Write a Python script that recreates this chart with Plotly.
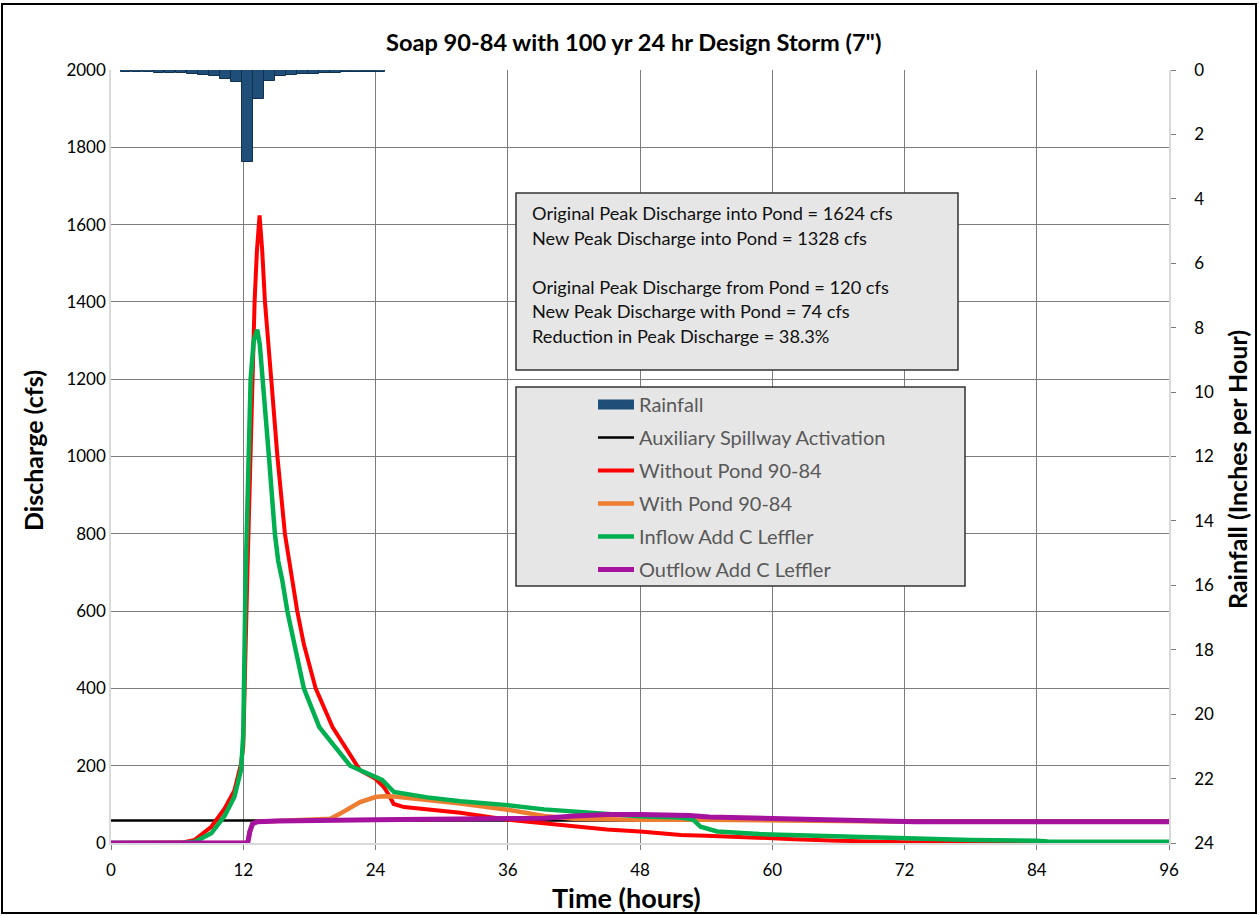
import plotly.graph_objects as go

# ---------------- data ----------------
rain_hour = list(range(1, 25))
rain_inph = [0.05, 0.05, 0.06, 0.08, 0.08, 0.09, 0.12, 0.15, 0.20, 0.27, 0.37, 2.86,
             0.89, 0.35, 0.20, 0.14, 0.13, 0.11, 0.10, 0.08, 0.06, 0.06, 0.06, 0.05]

spill_t = [0, 96]
spill_q = [58, 58]

nopond_t = [0, 5, 6.4, 7.6, 9.1, 10.3, 11.2, 11.8, 12.0, 12.36, 12.8, 13.03, 13.24, 13.48,
            13.72, 13.97, 14.54, 15.1, 15.78, 16.16, 16.5, 16.9, 17.5, 18.57, 20.1, 22.3,
            22.6, 24.0, 24.75, 25.2, 25.65, 26.6, 28.1, 28.7, 31.7, 36, 39.3, 42, 45, 48,
            51.7, 54, 60, 62, 66, 68, 72, 77, 80, 96]
nopond_q = [0, 0, 1, 8, 42, 89, 136, 205, 250, 680, 1200, 1400, 1533, 1624,
            1533, 1400, 1200, 1000, 800, 730, 680, 600, 514, 400, 300, 200,
            188, 166, 145, 125, 101, 93, 89, 87, 78, 60, 50, 43, 35, 30,
            21, 19, 14, 10, 6, 4, 2, 1, 0, 0]

pond_t = [0, 12.4, 12.6, 12.85, 13.3, 15, 17, 19.9, 20.8, 22.0, 22.6, 24.0, 24.75, 25.7,
          28.7, 31.7, 36, 38.1, 39.3, 42, 48, 54, 60, 66, 73, 96]
pond_q = [0, 0, 30, 50, 55, 57, 62, 63, 76, 98, 106, 119, 121, 120,
          111, 102, 86, 74, 70, 63, 60, 60, 59, 58, 55, 55]

inflow_t = [0, 6.4, 7.6, 9.1, 10.3, 11.2, 11.8, 12.0, 12.21, 12.67, 12.95, 13.27, 13.5,
            13.78, 14.33, 14.87, 15.17, 15.54, 16.0, 17.5, 18.9, 21.7, 22.6, 24.0, 24.6,
            25.67, 28.7, 31.7, 36, 39.3, 42, 45, 48, 51.7, 52.8, 53.5, 55, 58.8, 60, 66,
            72, 78, 84, 85, 96]
inflow_q = [0, 0, 3, 25, 70, 120, 190, 280, 680, 1200, 1300, 1328, 1290,
            1200, 1000, 800, 730, 680, 600, 400, 300, 200, 189, 171, 163,
            132, 118, 108, 98, 87, 81, 75, 69, 66, 61, 42, 30, 23, 22, 17,
            12, 8, 6, 4, 3]

outflow_t = [0, 12.4, 12.6, 12.85, 13.3, 15.1, 24, 28.7, 36, 39.3, 42, 45, 48, 51,
             52.5, 54.3, 60, 64.9, 73, 96]
outflow_q = [0, 0, 30, 50, 55, 57, 60, 61, 61, 64, 70, 74, 74, 73,
             71, 67, 62, 60, 55, 55]

x_ticks = list(range(0, 97, 12))
x_grid = list(range(12, 96, 12))
y_ticks = list(range(0, 2001, 200))
y_grid = list(range(200, 2001, 200))
y2_ticks = list(range(0, 25, 2))

info_lines = ["Original Peak Discharge into Pond = 1624 cfs",
              "New Peak Discharge into Pond = 1328 cfs",
              "",
              "Original Peak Discharge from Pond = 120 cfs",
              "New Peak Discharge with Pond = 74 cfs",
              "Reduction in Peak Discharge = 38.3%"]

FONT = "Lato"
W, H = 1259, 916
L, R, T, B = 111, 90, 70, 73
PW, PH = W - L - R, H - T - B
GRID = "#7c7c7c"


def px(xp):
    return (xp - L) / PW


def py(yp):
    return (H - B - yp) / PH


fig = go.Figure()

# rainfall bars (secondary, reversed axis)
fig.add_trace(go.Bar(x=rain_hour, y=rain_inph, yaxis="y2", offset=-0.13, width=0.98,
                     marker=dict(color="#1F4E79", line=dict(color="#12314f", width=1)),
                     showlegend=False, name="Rainfall"))
# legend proxy for rainfall
fig.add_trace(go.Scatter(x=[None], y=[None], mode="lines", name="Rainfall",
                         legendgroup="g1",
                         line=dict(color="#1F4E79", width=12)))

series = [
    ("Auxiliary Spillway Activation", spill_t, spill_q, "#000000", 2.5, "g2"),
    ("Without Pond 90-84", nopond_t, nopond_q, "#FF0000", 4, "g3"),
    ("With Pond 90-84", pond_t, pond_q, "#ED7D31", 4.5, "g4"),
    ("Inflow Add C Leffler", inflow_t, inflow_q, "#00B050", 4.5, "g5"),
    ("Outflow Add C Leffler", outflow_t, outflow_q, "#A5129E", 5, "g6"),
]
for name, t, q, c, w, g in series:
    fig.add_trace(go.Scatter(x=t, y=q, mode="lines", name=name, legendgroup=g,
                             line=dict(color=c, width=w)))

shapes = [
    # info box
    dict(type="rect", xref="paper", yref="paper", x0=px(516), x1=px(958), y0=py(370), y1=py(193),
         fillcolor="#E6E6E6", line=dict(color="#333333", width=1.5), layer="above"),
    # legend box
    dict(type="rect", xref="paper", yref="paper", x0=px(516), x1=px(965), y0=py(586), y1=py(387),
         fillcolor="#E6E6E6", line=dict(color="#333333", width=1.5), layer="above"),
    # outer frame
    dict(type="rect", xref="paper", yref="paper", x0=px(2), x1=px(1256), y0=py(913), y1=py(4),
         fillcolor="rgba(0,0,0,0)", line=dict(color="#000000", width=2), layer="above"),
]

annotations = []
line_y = [213, 238, 262, 287, 311, 336]
for txt, yy in zip(info_lines, line_y):
    if txt:
        annotations.append(dict(text=txt, xref="paper", yref="paper", x=px(530), y=py(yy),
                                xanchor="left", yanchor="middle", showarrow=False,
                                font=dict(family=FONT, size=18.2, color="#111111")))

annotations += [
    dict(text="<b>Soap 90-84 with 100 yr 24 hr Design Storm (7\")</b>", xref="paper", yref="paper",
         x=px(633), y=py(42), xanchor="center", yanchor="middle", showarrow=False,
         font=dict(family=FONT, size=23.6, color="#000000")),
    dict(text="<b>Time (hours)</b>", xref="paper", yref="paper", x=px(626), y=py(897),
         xanchor="center", yanchor="middle", showarrow=False,
         font=dict(family=FONT, size=27, color="#000000")),
    dict(text="<b>Discharge (cfs)</b>", xref="paper", yref="paper", x=px(33), y=py(451),
         xanchor="center", yanchor="middle", showarrow=False, textangle=-90,
         font=dict(family=FONT, size=25, color="#000000")),
    dict(text="<b>Rainfall (Inches per Hour)</b>", xref="paper", yref="paper", x=px(1237), y=py(470),
         xanchor="center", yanchor="middle", showarrow=False, textangle=-90,
         font=dict(family=FONT, size=25, color="#000000")),
]

fig.update_layout(
    width=W, height=H,
    margin=dict(l=L, r=R, t=T, b=B),
    paper_bgcolor="white", plot_bgcolor="white",
    font=dict(family=FONT, size=16, color="#000000"),
    bargap=0,
    xaxis=dict(range=[0, 96], tickvals=x_ticks, showgrid=False,
               minor=dict(tickvals=x_grid, showgrid=True, gridcolor=GRID, gridwidth=1.2, ticks=""),
               zeroline=False, showline=True, linecolor="#d9d9d9", linewidth=1.5,
               ticks="outside", ticklen=5, tickcolor=GRID, ticklabelstandoff=6,
               tickfont=dict(family=FONT, size=17)),
    yaxis=dict(range=[0, 2000], tickvals=y_ticks, showgrid=False,
               minor=dict(tickvals=y_grid, showgrid=True, gridcolor=GRID, gridwidth=1.2, ticks=""),
               zeroline=False, showline=True, linecolor="#d9d9d9", linewidth=1.5,
               ticks="", ticklabelstandoff=0, tickfont=dict(family=FONT, size=17)),
    yaxis2=dict(range=[24, 0], tickvals=y2_ticks, overlaying="y", side="right", showgrid=False,
                zeroline=False, showline=True, linecolor="#d9d9d9", linewidth=1.5,
                ticks="outside", ticklen=5, tickcolor=GRID, ticklabelstandoff=15,
                tickfont=dict(family=FONT, size=17)),
    legend=dict(x=px(593), y=py(385), xanchor="left", yanchor="top",
                bgcolor="rgba(0,0,0,0)", borderwidth=0, traceorder="grouped",
                tracegroupgap=4, itemwidth=36,
                font=dict(family=FONT, size=20, color="#595959")),
    shapes=shapes,
    annotations=annotations,
)

fig.write_html("out.html", config={"displayModeBar": False},
               post_script="document.body.style.margin='0';document.body.style.overflow='hidden';")
